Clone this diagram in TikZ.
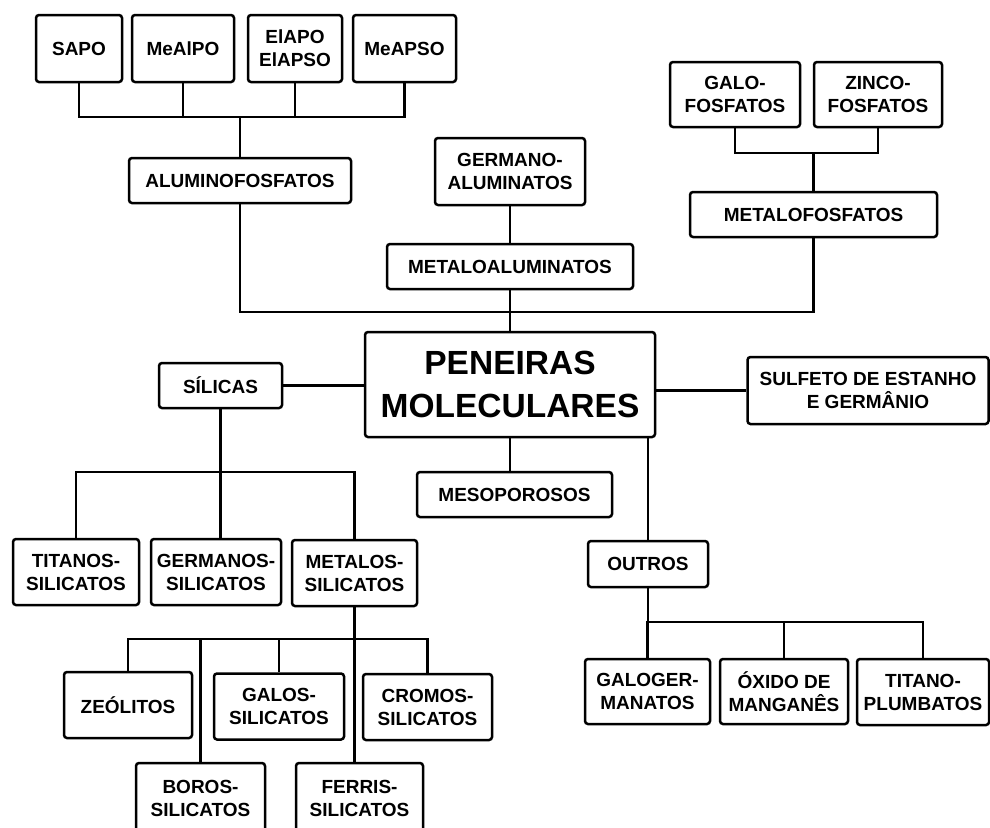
\documentclass[tikz,border=0pt]{standalone}
\usepackage{fontspec}
\setmainfont{Liberation Sans}
\usepackage{tikz}

\tikzset{
  caixa/.style={draw, line width=2.5pt, rounded corners=3pt, inner sep=0pt,
    align=center, font=\bfseries\fontsize{19}{23}\selectfont},
  liga/.style={line width=2.5pt}
}

\begin{document}
\begin{tikzpicture}[x=1pt, y=-1pt]
    \clip (0,0) rectangle (990,827);
    \fill[white] (0,0) rectangle (990,827);

    \node[caixa, minimum width=86, minimum height=67] (sapo) at (79,48.5) {SAPO};
    \node[caixa, minimum width=102, minimum height=67] (mealpo) at (183,48.5) {MeAlPO};
    \node[caixa, minimum width=94, minimum height=67] (elapo) at (295,48.5) {ElAPO\\ElAPSO};
    \node[caixa, minimum width=103, minimum height=67] (meapso) at (404.5,48.5) {MeAPSO};
    \node[caixa, minimum width=222, minimum height=45] (alpo) at (240,180.5) {ALUMINOFOSFATOS};

    \node[caixa, minimum width=150, minimum height=67] (germal) at (510,171.5) {GERMANO-\\ALUMINATOS};
    \node[caixa, minimum width=246, minimum height=45] (metal) at (510,266.5) {METALOALUMINATOS};

    \node[caixa, minimum width=130, minimum height=65] (galo) at (735,94.5) {GALO-\\FOSFATOS};
    \node[caixa, minimum width=128, minimum height=65] (zinco) at (878,94.5) {ZINCO-\\FOSFATOS};
    \node[caixa, minimum width=247, minimum height=45] (metfos) at (813.5,214.5) {METALOFOSFATOS};

    \node[caixa, minimum width=290, minimum height=105,
      font=\bfseries\fontsize{33.5}{43}\selectfont] (peneiras) at (510,384.5) {PENEIRAS\\MOLECULARES};

    \node[caixa, minimum width=123, minimum height=45] (silicas) at (220.5,385.5) {SÍLICAS};
    \node[caixa, minimum width=241, minimum height=67] (sulfeto) at (868,390.5) {SULFETO DE ESTANHO\\E GERMÂNIO};
    \node[caixa, minimum width=195, minimum height=45] (meso) at (514.5,494.5) {MESOPOROSOS};
    \node[caixa, minimum width=120, minimum height=46] (outros) at (648,564) {OUTROS};

    \node[caixa, minimum width=126, minimum height=66] (titanos) at (76,572) {TITANOS-\\SILICATOS};
    \node[caixa, minimum width=130, minimum height=66] (germanos) at (216,572) {GERMANOS-\\SILICATOS};
    \node[caixa, minimum width=125, minimum height=66] (metalos) at (354.5,573) {METALOS-\\SILICATOS};

    \node[caixa, minimum width=128, minimum height=66] (zeolitos) at (128,705) {ZEÓLITOS};
    \node[caixa, minimum width=130, minimum height=66] (galos) at (279,706.5) {GALOS-\\SILICATOS};
    \node[caixa, minimum width=129, minimum height=66] (cromos) at (427.5,707) {CROMOS-\\SILICATOS};
    \node[caixa, minimum width=129, minimum height=70] (boros) at (200.5,798) {BOROS-\\SILICATOS};
    \node[caixa, minimum width=127, minimum height=70] (ferris) at (359.5,798) {FERRIS-\\SILICATOS};

    \node[caixa, minimum width=125, minimum height=65] (galoger) at (647.5,691.5) {GALOGER-\\MANATOS};
    \node[caixa, minimum width=128, minimum height=65] (oxido) at (784,691.5) {ÓXIDO DE\\MANGANÊS};
    \node[caixa, minimum width=132, minimum height=66] (titano) at (923,692) {TITANO-\\PLUMBATOS};

    \coordinate (alpobar) at (240,117);
    \coordinate (fosbar) at (813.5,153);
    \coordinate (topbar) at (510,312);
    \coordinate (silbar) at (220.5,472);
    \coordinate (metbar) at (354.5,639);
    \coordinate (outbar) at (648,622);

    \draw[liga] (sapo.south) |- (alpobar) -| (meapso.south);
    \draw[liga] (mealpo.south) -- (mealpo.south |- alpobar);
    \draw[liga] (elapo.south) -- (elapo.south |- alpobar);
    \draw[liga] (alpobar) -- (alpo.north);

    \draw[liga] (galo.south) |- (fosbar) -| (zinco.south);
    \draw[liga] (fosbar) -- (metfos.north);

    \draw[liga] (alpo.south) |- (topbar) -| (metfos.south);
    \draw[liga] (germal.south) -- (metal.north);
    \draw[liga] (metal.south) -- (peneiras.north);

    \draw[liga] (silicas.east) -- (peneiras.west |- silicas.east);
    \draw[liga] (peneiras.east |- sulfeto.west) -- (sulfeto.west);
    \draw[liga] (peneiras.south) -- (peneiras.south |- meso.north);
    \draw[liga] (peneiras.south -| outros.north) -- (outros.north);

    \draw[liga] (titanos.north) |- (silbar) -| (metalos.north);
    \draw[liga] (silicas.south) -- (silicas.south |- germanos.north);

    \draw[liga] (zeolitos.north) |- (metbar) -| (cromos.north);
    \draw[liga] (metalos.south) -- (metalos.south |- ferris.north);
    \draw[liga] (boros.north) -- (boros.north |- metbar);
    \draw[liga] (galos.north) -- (galos.north |- metbar);

    \draw[liga] (outros.south) -- (outbar);
    \draw[liga] (galoger.north) |- (outbar) -| (titano.north);
    \draw[liga] (oxido.north) -- (oxido.north |- outbar);
\end{tikzpicture}
\end{document}
